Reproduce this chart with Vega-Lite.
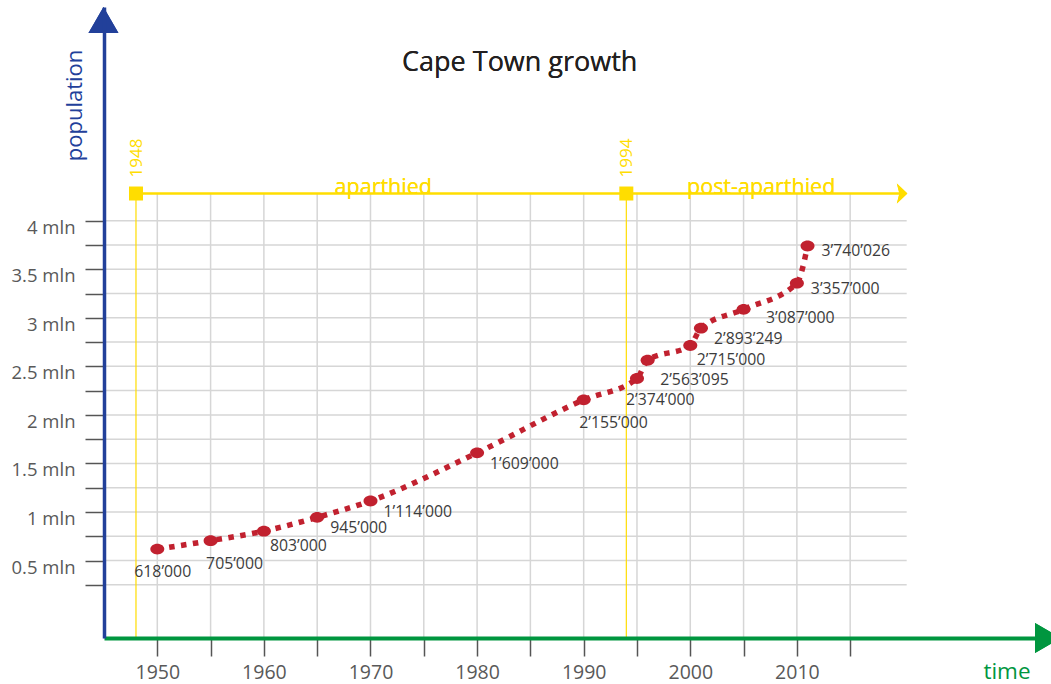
{
  "$schema": "https://vega.github.io/schema/vega-lite/v6.json",
  "width": 947,
  "height": 631,
  "autosize": {"type": "none"},
  "padding": {"left": 104, "top": 7, "right": 0, "bottom": 46},
  "background": "white",
  "config": {"view": {"stroke": null}, "font": "Open Sans"},
  "datasets": {
    "pop": [
      {"year": 1950, "population": 618000, "label": "618’000"},
      {"year": 1955, "population": 705000, "label": "705’000"},
      {"year": 1960, "population": 803000, "label": "803’000"},
      {"year": 1965, "population": 945000, "label": "945’000"},
      {"year": 1970, "population": 1114000, "label": "1’114’000"},
      {"year": 1980, "population": 1609000, "label": "1’609’000"},
      {"year": 1990, "population": 2155000, "label": "2’155’000"},
      {"year": 1995, "population": 2374000, "label": "2’374’000"},
      {"year": 1996, "population": 2563095, "label": "2’563’095"},
      {"year": 2000, "population": 2715000, "label": "2’715’000"},
      {"year": 2001, "population": 2893249, "label": "2’893’249"},
      {"year": 2005, "population": 3087000, "label": "3’087’000"},
      {"year": 2010, "population": 3357000, "label": "3’357’000"},
      {"year": 2011, "population": 3740026, "label": "3’740’026"}
    ],
    "hgrid": [
      {"v": 250000}, {"v": 500000}, {"v": 750000}, {"v": 1000000},
      {"v": 1250000}, {"v": 1500000}, {"v": 1750000}, {"v": 2000000},
      {"v": 2250000}, {"v": 2500000}, {"v": 2750000}, {"v": 3000000},
      {"v": 3250000}, {"v": 3500000}, {"v": 3750000}, {"v": 4000000}
    ],
    "vgrid": [
      {"yr": 1950}, {"yr": 1955}, {"yr": 1960}, {"yr": 1965}, {"yr": 1970},
      {"yr": 1975}, {"yr": 1980}, {"yr": 1985}, {"yr": 1990}, {"yr": 1995},
      {"yr": 2000}, {"yr": 2005}, {"yr": 2010}, {"yr": 2015}
    ],
    "eras": [
      {"start": 1948, "name": "1948"},
      {"start": 1994, "name": "1994"}
    ]
  },
  "layer": [
    {
      "data": {"name": "hgrid"},
      "mark": {"type": "rule", "color": "#d6d6d6", "strokeWidth": 1.5},
      "encoding": {
        "y": {"field": "v", "type": "quantitative", "scale": {"domain": [-297630, 6200800], "nice": false, "zero": false}},
        "x": {"datum": 1945, "scale": {"domain": [1945, 2033.84], "nice": false, "zero": false}},
        "x2": {"datum": 2020.3}
      }
    },
    {
      "data": {"name": "vgrid"},
      "mark": {"type": "rule", "color": "#d6d6d6", "strokeWidth": 1.5},
      "encoding": {
        "x": {"field": "yr", "type": "quantitative"},
        "y": {"datum": 4280000},
        "y2": {"datum": -297630}
      }
    },
    {
      "data": {"name": "eras"},
      "mark": {"type": "rule", "color": "#FFDD00", "strokeWidth": 1.2},
      "encoding": {
        "x": {"field": "start", "type": "quantitative"},
        "y": {"datum": 4280000},
        "y2": {"datum": -297630}
      }
    },
    {
      "data": {"name": "eras"},
      "mark": {"type": "rule", "color": "#FFDD00", "strokeWidth": 2},
      "encoding": {
        "x": {"datum": 1948},
        "x2": {"datum": 2020.0},
        "y": {"datum": 4280000}
      }
    },
    {
      "data": {"name": "eras"},
      "mark": {"type": "point", "shape": "M-0.5,-1L0.55,0L-0.5,1L-0.25,0Z", "filled": true, "color": "#FFDD00", "size": 400, "opacity": 1},
      "encoding": {
        "x": {"datum": 2019.85},
        "y": {"datum": 4280000}
      }
    },
    {
      "data": {"name": "eras"},
      "mark": {"type": "point", "shape": "square", "filled": true, "color": "#FFDD00", "size": 196, "opacity": 1},
      "encoding": {
        "x": {"field": "start", "type": "quantitative"},
        "y": {"datum": 4280000}
      }
    },
    {
      "data": {"name": "eras"},
      "mark": {"type": "text", "angle": 270, "align": "left", "baseline": "alphabetic", "dx": 16, "dy": 6, "fontSize": 17, "color": "#FFDD00", "font": "Open Sans"},
      "encoding": {
        "x": {"field": "start", "type": "quantitative"},
        "y": {"datum": 4280000},
        "text": {"field": "name"}
      }
    },
    {
      "data": {"name": "eras"},
      "mark": {"type": "text", "align": "center", "baseline": "alphabetic", "fontSize": 21.5, "color": "#FFDD00", "font": "Open Sans"},
      "encoding": {
        "x": {"datum": 1971.2},
        "y": {"datum": 4280000},
        "text": {"value": "aparthied"}
      }
    },
    {
      "data": {"name": "eras"},
      "mark": {"type": "text", "align": "center", "baseline": "alphabetic", "fontSize": 21.5, "color": "#FFDD00", "font": "Open Sans"},
      "encoding": {
        "x": {"datum": 2006.65},
        "y": {"datum": 4280000},
        "text": {"value": "post-aparthied"}
      }
    },
    {
      "data": {"name": "pop"},
      "mark": {"type": "line", "color": "#C1212F", "strokeWidth": 5.5, "strokeDash": [5.5, 6.5], "interpolate": "monotone"},
      "encoding": {
        "x": {
          "field": "year", "type": "quantitative",
          "axis": {
            "values": [1950, 1955, 1960, 1965, 1970, 1975, 1980, 1985, 1990, 1995, 2000, 2005, 2010, 2015],
            "labelExpr": "datum.value % 10 == 0 ? '' + datum.value : ''",
            "grid": false, "zindex": 1,
            "domainColor": "#00963F", "domainWidth": 4,
            "tickColor": "#555555", "tickWidth": 1.5, "tickSize": 18,
            "labelColor": "#595959", "labelFontSize": 19.5, "labelFont": "Open Sans", "labelPadding": 7,
            "labelFlush": false, "labelOverlap": false,
            "title": "time", "titleColor": "#00963F", "titleFontSize": 22.5, "titleFontWeight": "normal", "titleFont": "Open Sans",
            "titleX": 902.5, "titleY": 40, "titleAlign": "center", "titleBaseline": "alphabetic"
          }
        },
        "y": {
          "field": "population", "type": "quantitative",
          "axis": {
            "values": [250000, 500000, 750000, 1000000, 1250000, 1500000, 1750000, 2000000, 2250000, 2500000, 2750000, 3000000, 3250000, 3500000, 3750000, 4000000],
            "labelExpr": "datum.value % 500000 == 0 ? (datum.value / 1000000) + ' mln' : ''",
            "grid": false, "zindex": 1,
            "domainColor": "#22409A", "domainWidth": 3.5,
            "tickColor": "#555555", "tickWidth": 1.5, "tickSize": 19,
            "labelColor": "#595959", "labelFontSize": 18.5, "labelFont": "Open Sans", "labelPadding": 10,
            "labelBaseline": "alphabetic", "labelOffset": 12.5, "labelOverlap": false,
            "title": "population", "titleColor": "#22409A", "titleFontSize": 22, "titleFontWeight": "normal", "titleFont": "Open Sans",
            "titleAngle": 270, "titleX": -23, "titleY": 98, "titleAlign": "center", "titleBaseline": "alphabetic"
          }
        }
      }
    },
    {
      "data": {"name": "pop"},
      "mark": {"type": "point", "shape": "M-1,0A1,0.78,0,1,0,1,0A1,0.78,0,1,0,-1,0Z", "filled": true, "color": "#C1212F", "size": 196, "opacity": 1},
      "encoding": {
        "x": {"field": "year", "type": "quantitative"},
        "y": {"field": "population", "type": "quantitative"}
      }
    },
    {
      "data": {"name": "pop"},
      "transform": [{"filter": {"field": "year", "oneOf": [1950]}}],
      "mark": {"type": "text", "align": "left", "baseline": "alphabetic", "dx": -23, "dy": 28, "fontSize": 15.8, "color": "#3c3c3c", "font": "Open Sans"},
      "encoding": {"x": {"field": "year", "type": "quantitative"}, "y": {"field": "population", "type": "quantitative"}, "text": {"field": "label"}}
    },
    {
      "data": {"name": "pop"},
      "transform": [{"filter": {"field": "year", "oneOf": [1955, 1990]}}],
      "mark": {"type": "text", "align": "left", "baseline": "alphabetic", "dx": -4.5, "dy": 28.5, "fontSize": 15.8, "color": "#3c3c3c", "font": "Open Sans"},
      "encoding": {"x": {"field": "year", "type": "quantitative"}, "y": {"field": "population", "type": "quantitative"}, "text": {"field": "label"}}
    },
    {
      "data": {"name": "pop"},
      "transform": [{"filter": {"field": "year", "oneOf": [1995]}}],
      "mark": {"type": "text", "align": "left", "baseline": "alphabetic", "dx": -11, "dy": 26, "fontSize": 15.8, "color": "#3c3c3c", "font": "Open Sans"},
      "encoding": {"x": {"field": "year", "type": "quantitative"}, "y": {"field": "population", "type": "quantitative"}, "text": {"field": "label"}}
    },
    {
      "data": {"name": "pop"},
      "transform": [{"filter": {"field": "year", "oneOf": [1960]}}],
      "mark": {"type": "text", "align": "left", "baseline": "alphabetic", "dx": 6, "dy": 20, "fontSize": 15.8, "color": "#3c3c3c", "font": "Open Sans"},
      "encoding": {"x": {"field": "year", "type": "quantitative"}, "y": {"field": "population", "type": "quantitative"}, "text": {"field": "label"}}
    },
    {
      "data": {"name": "pop"},
      "transform": [{"filter": {"field": "year", "oneOf": [2000]}}],
      "mark": {"type": "text", "align": "left", "baseline": "alphabetic", "dx": 6.5, "dy": 20, "fontSize": 15.8, "color": "#3c3c3c", "font": "Open Sans"},
      "encoding": {"x": {"field": "year", "type": "quantitative"}, "y": {"field": "population", "type": "quantitative"}, "text": {"field": "label"}}
    },
    {
      "data": {"name": "pop"},
      "transform": [{"filter": {"field": "year", "oneOf": [1996]}}],
      "mark": {"type": "text", "align": "left", "baseline": "alphabetic", "dx": 12.5, "dy": 25, "fontSize": 15.8, "color": "#3c3c3c", "font": "Open Sans"},
      "encoding": {"x": {"field": "year", "type": "quantitative"}, "y": {"field": "population", "type": "quantitative"}, "text": {"field": "label"}}
    },
    {
      "data": {"name": "pop"},
      "transform": [{"filter": {"field": "year", "oneOf": [1965, 1970, 1980, 2001]}}],
      "mark": {"type": "text", "align": "left", "baseline": "alphabetic", "dx": 13, "dy": 16, "fontSize": 15.8, "color": "#3c3c3c", "font": "Open Sans"},
      "encoding": {"x": {"field": "year", "type": "quantitative"}, "y": {"field": "population", "type": "quantitative"}, "text": {"field": "label"}}
    },
    {
      "data": {"name": "pop"},
      "transform": [{"filter": {"field": "year", "oneOf": [2005]}}],
      "mark": {"type": "text", "align": "left", "baseline": "alphabetic", "dx": 22.5, "dy": 13.3, "fontSize": 15.8, "color": "#3c3c3c", "font": "Open Sans"},
      "encoding": {"x": {"field": "year", "type": "quantitative"}, "y": {"field": "population", "type": "quantitative"}, "text": {"field": "label"}}
    },
    {
      "data": {"name": "pop"},
      "transform": [{"filter": {"field": "year", "oneOf": [2010, 2011]}}],
      "mark": {"type": "text", "align": "left", "baseline": "alphabetic", "dx": 14, "dy": 10.5, "fontSize": 15.8, "color": "#3c3c3c", "font": "Open Sans"},
      "encoding": {"x": {"field": "year", "type": "quantitative"}, "y": {"field": "population", "type": "quantitative"}, "text": {"field": "label"}}
    },
    {
      "data": {"name": "eras"},
      "mark": {"type": "text", "align": "center", "baseline": "alphabetic", "fontSize": 27, "color": "#231f20", "font": "Open Sans"},
      "encoding": {
        "x": {"datum": 1984.0},
        "y": {"datum": 5537000},
        "text": {"value": "Cape Town growth"}
      }
    },
    {
      "data": {"name": "eras"},
      "mark": {"type": "point", "shape": "triangle-up", "filled": true, "color": "#22409A", "size": 900, "opacity": 1},
      "encoding": {
        "x": {"datum": 1944.95},
        "y": {"datum": 6067000}
      }
    },
    {
      "data": {"name": "eras"},
      "mark": {"type": "point", "shape": "triangle-right", "filled": true, "color": "#00963F", "size": 900, "opacity": 1},
      "encoding": {
        "x": {"datum": 2033.56},
        "y": {"datum": -297630}
      }
    }
  ]
}
